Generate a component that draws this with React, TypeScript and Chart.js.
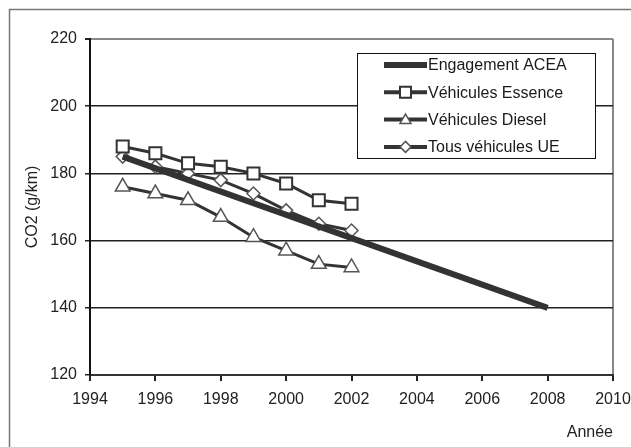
import React, { useEffect, useRef } from "react";
import { Chart, registerables } from "chart.js";

Chart.register(...registerables);

const years = [1995, 1996, 1997, 1998, 1999, 2000, 2001, 2002];
const essence = [188, 186, 183, 182, 180, 177, 172, 171];
const diesel = [176, 174, 172, 167, 161, 157, 153, 152];
const tous = [185, 182, 180, 178, 174, 169, 165, 163];
const aceaYears = [1995, 2008];
const acea = [185, 140];
const labels = ["Engagement ACEA", "Véhicules Essence", "Véhicules Diesel", "Tous véhicules UE"];

const FONT = "'Liberation Sans', Arial, sans-serif";

const framePlugin = {
  id: "frame",
  beforeDraw(chart: any) {
    const ctx = chart.ctx;
    ctx.save();
    ctx.fillStyle = "#ffffff";
    ctx.fillRect(0, 0, chart.width, chart.height);
    ctx.strokeStyle = "#777";
    ctx.lineWidth = 1.5;
    ctx.strokeRect(9.5, 9.5, 800, 600);
    ctx.restore();
  },
};

const legendPlugin = {
  id: "boxLegend",
  afterDraw(chart: any) {
    const ctx = chart.ctx;
    const x0 = 357, y0 = 53, w = 238, h = 105;
    ctx.save();
    ctx.fillStyle = "#fff";
    ctx.fillRect(x0, y0, w, h);
    ctx.strokeStyle = "#111";
    ctx.lineWidth = 1;
    ctx.strokeRect(x0 + 0.5, y0 + 0.5, w, h);
    chart.data.datasets.forEach((ds: any, i: number) => {
      const y = 65 + i * 27.3;
      ctx.strokeStyle = ds.borderColor;
      ctx.lineWidth = i === 0 ? 6 : 4;
      ctx.beginPath();
      ctx.moveTo(384, y);
      ctx.lineTo(427, y);
      ctx.stroke();
      if (ds.pointStyle && ds.pointRadius > 0) {
        ctx.fillStyle = "#fff";
        ctx.strokeStyle = ds.pointBorderColor;
        ctx.lineWidth = ds.pointBorderWidth;
        const r = 5.5;
        ctx.beginPath();
        if (ds.pointStyle === "rect") {
          ctx.rect(405.5 - r, y - r, 2 * r, 2 * r);
        } else if (ds.pointStyle === "triangle") {
          ctx.moveTo(405.5, y - r);
          ctx.lineTo(405.5 + r, y + r * 0.7);
          ctx.lineTo(405.5 - r, y + r * 0.7);
          ctx.closePath();
        } else {
          ctx.moveTo(405.5, y - r);
          ctx.lineTo(405.5 + r, y);
          ctx.lineTo(405.5, y + r);
          ctx.lineTo(405.5 - r, y);
          ctx.closePath();
        }
        ctx.fill();
        ctx.stroke();
      }
      ctx.fillStyle = "#1a1a1a";
      ctx.font = `16px ${FONT}`;
      ctx.textBaseline = "middle";
      ctx.textAlign = "left";
      ctx.fillText(ds.label, 428, y + 1);
    });
    ctx.restore();
  },
};

export default function App() {
  const ref = useRef<HTMLCanvasElement>(null);
  useEffect(() => {
    const pts = (xs: number[], ys: number[]) => xs.map((x, i) => ({ x, y: ys[i] }));
    const chart = new Chart(ref.current!, {
      type: "line",
      data: {
        datasets: [
          {
            label: labels[0],
            data: pts(aceaYears, acea),
            borderColor: "#333",
            borderWidth: 6,
            pointRadius: 0,
          },
          {
            label: labels[1],
            data: pts(years, essence),
            borderColor: "#333",
            borderWidth: 3,
            pointStyle: "rect",
            pointRadius: 8.5,
            pointBackgroundColor: "#fff",
            pointBorderColor: "#333",
            pointBorderWidth: 2,
          },
          {
            label: labels[2],
            data: pts(years, diesel),
            borderColor: "#333",
            borderWidth: 3,
            pointStyle: "triangle",
            pointRadius: 8.5,
            pointBackgroundColor: "#fff",
            pointBorderColor: "#555",
            pointBorderWidth: 1.5,
          },
          {
            label: labels[3],
            data: pts(years, tous),
            borderColor: "#333",
            borderWidth: 3,
            pointStyle: "rectRot",
            pointRadius: 6.5,
            pointBackgroundColor: "#fff",
            pointBorderColor: "#555",
            pointBorderWidth: 1.5,
          },
        ] as any,
      },
      options: {
        animation: false,
        responsive: false,
        devicePixelRatio: 1,
        layout: { padding: { left: 9, top: 39, right: 18, bottom: 0 } },
        plugins: { legend: { display: false }, tooltip: { enabled: false } },
        scales: {
          x: {
            type: "linear",
            min: 1994,
            max: 2010,
            ticks: {
              stepSize: 2,
              padding: 9,
              color: "#222",
              font: { family: FONT, size: 16 },
              maxRotation: 0,
              callback: (v: any) => String(v),
            },
            grid: {
              drawOnChartArea: true,
              color: (c: any) => (c.tick && c.tick.value === 2010 ? "#888" : "rgba(0,0,0,0)"),
              lineWidth: 2,
              tickColor: "#222",
              tickLength: 6,
            },
            border: { color: "#333", width: 2 },
            title: {
              display: true,
              text: "Année",
              align: "end",
              color: "#222",
              font: { family: FONT, size: 16 },
              padding: { top: 0, bottom: 5 },
            },
            afterFit: (s: any) => {
              s.height = 72;
              s.paddingRight = 0;
            },
          },
          y: {
            min: 120,
            max: 220,
            ticks: { stepSize: 20, padding: 8, color: "#222", font: { family: FONT, size: 16 } },
            grid: {
              color: (c: any) =>
                c.tick && c.tick.value === 220 ? "#888" : c.tick && c.tick.value === 120 ? "rgba(0,0,0,0)" : "#222",
              lineWidth: (c: any) => (c.tick && c.tick.value === 220 ? 2 : 1.5),
              tickColor: "#222",
              tickLength: 5,
            },
            border: { color: "#111", width: 2 },
            title: {
              display: true,
              text: "CO2 (g/km)",
              color: "#222",
              font: { family: FONT, size: 16 },
              padding: { top: 14, bottom: 0 },
            },
            afterFit: (s: any) => {
              s.width = 81;
            },
          },
        },
      } as any,
      plugins: [framePlugin, legendPlugin],
    });
    return () => chart.destroy();
  }, []);
  return (
    <div style={{ position: "fixed", left: 0, top: 0, width: 631, height: 447 }}>
      <canvas ref={ref} width={631} height={447} style={{ width: 631, height: 447, display: "block" }} />
    </div>
  );
}
